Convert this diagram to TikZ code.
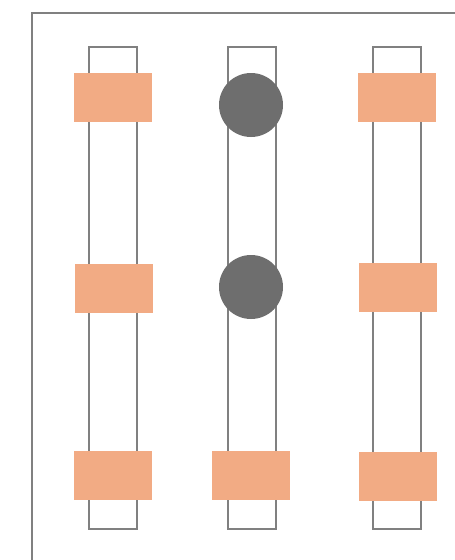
\documentclass[tikz,border=0pt]{standalone}
\begin{document}
\begin{tikzpicture}[x=1pt,y=-1pt,
  rail/.style={draw=black!50,line width=1.3pt,fill=white,inner sep=0,minimum width=48pt,minimum height=482pt},
  pad/.style={fill=orange!50!red!20!white,fill={rgb,255:red,242;green,171;blue,132},inner sep=0,minimum width=78pt,minimum height=49pt},
  knob/.style={circle,fill={rgb,255:red,110;green,110;blue,110},inner sep=0,minimum size=64pt}]
\useasboundingbox (0,0) rectangle (455,560);
\draw[black!50,line width=1.5pt] (32,561) -- (32,13) -- (456,13);
\node[rail] (r1) at (113,288) {};
\node[rail] (r2) at (252,288) {};
\node[rail] (r3) at (397,288) {};
\node[pad] (a1) at (113,97.5) {};
\node[pad] (a2) at (114,288.5) {};
\node[pad] (a3) at (113,475.5) {};
\node[knob] (b1) at (251,105) {};
\node[knob] (b2) at (251,287) {};
\node[pad] (b3) at (251,475.5) {};
\node[pad] (c1) at (397,97.5) {};
\node[pad] (c2) at (398,287) {};
\node[pad] (c3) at (398,476.5) {};
\end{tikzpicture}
\end{document}
